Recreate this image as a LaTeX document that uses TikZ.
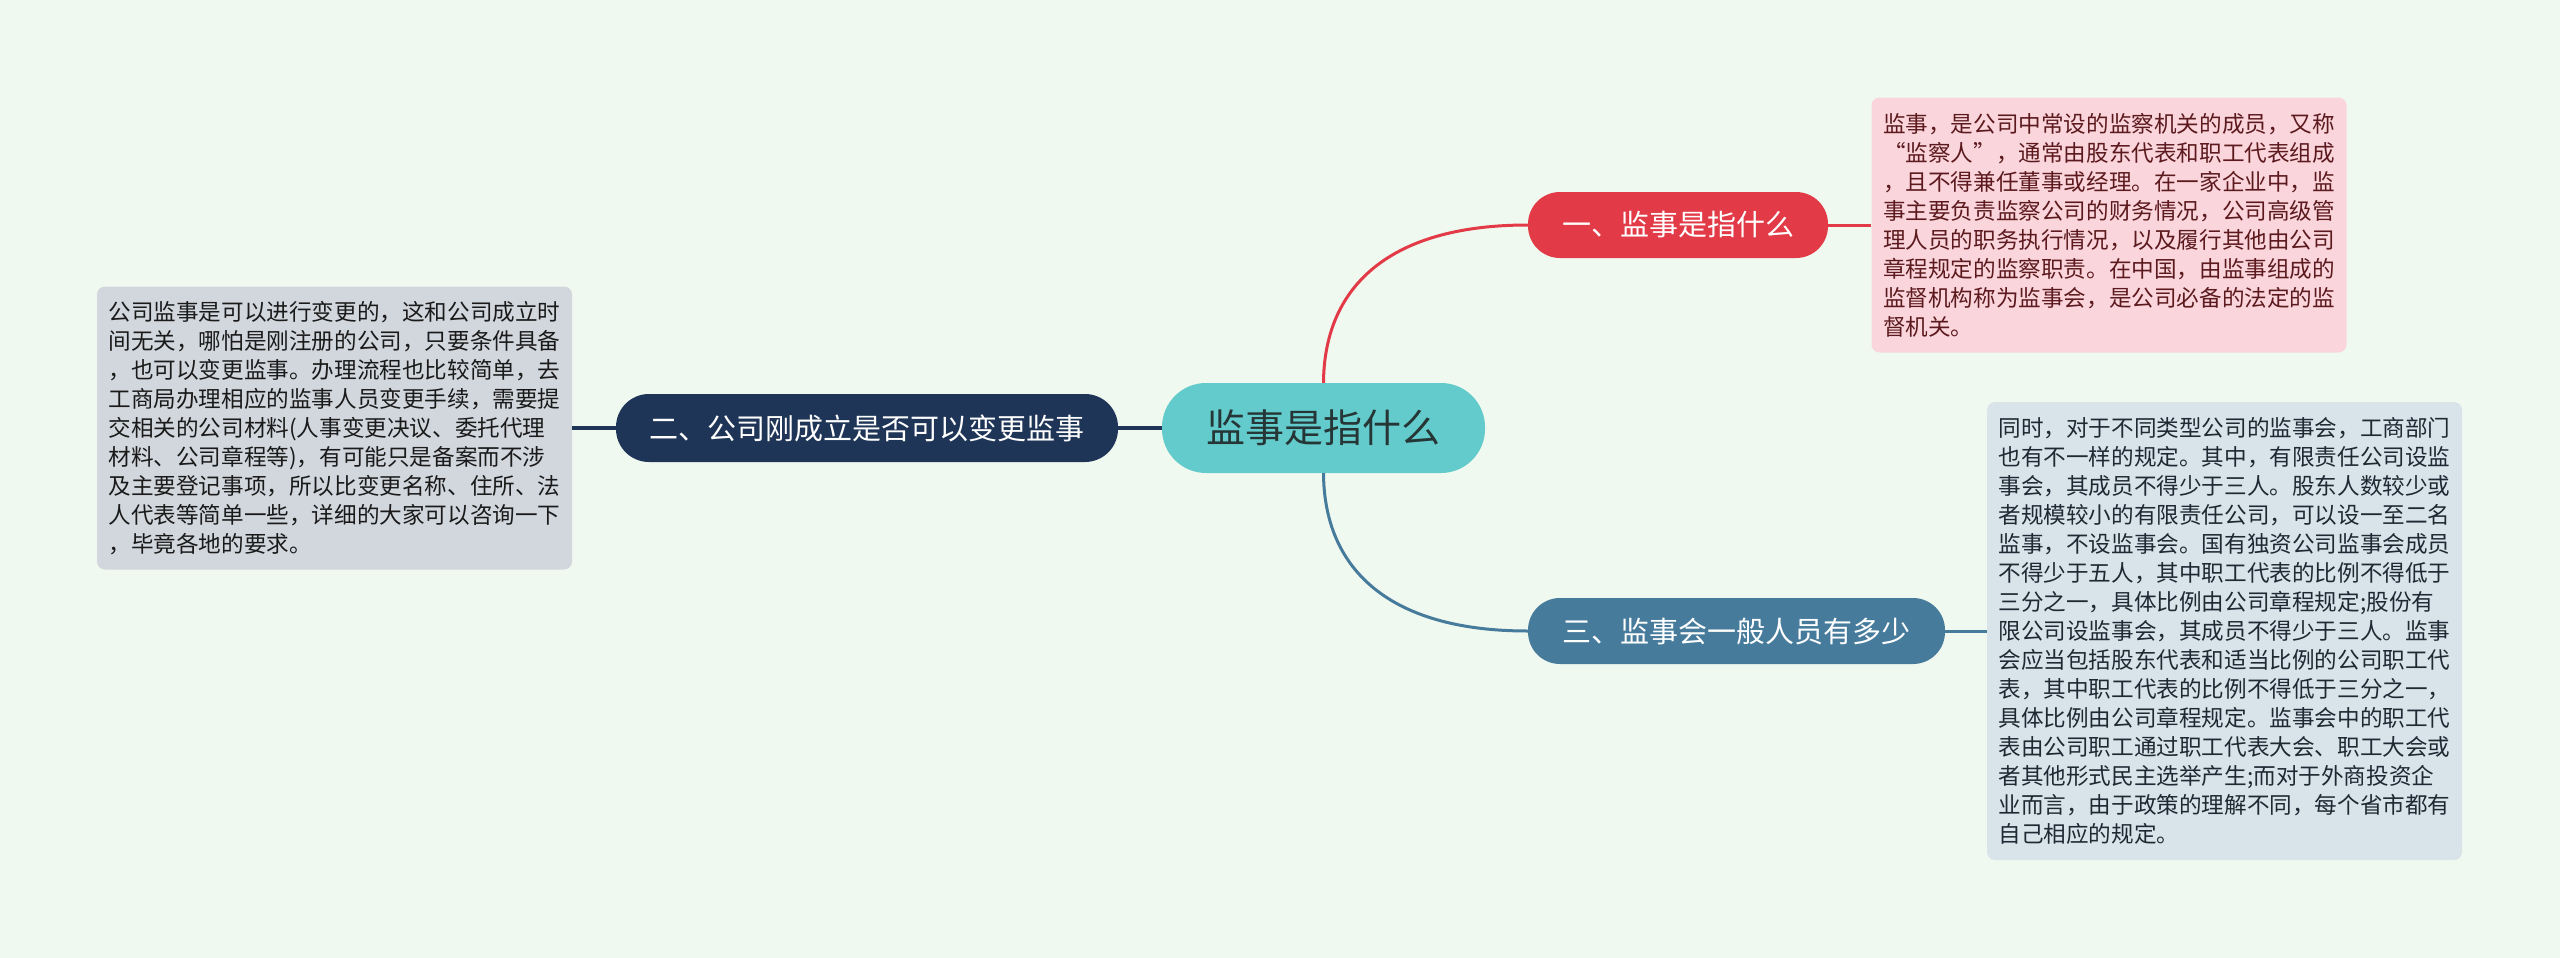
\documentclass[tikz,border=0pt]{standalone}
\usepackage{fontspec}
\setmainfont{Noto Sans CJK SC}
\newfontfamily\fwq[RawFeature=+fwid]{Noto Sans CJK SC}
\definecolor{bg}{HTML}{F0F9EF}
\definecolor{ctr}{HTML}{63CBCC}
\definecolor{ctrtext}{HTML}{263535}
\definecolor{navy}{HTML}{1E3557}
\definecolor{redb}{HTML}{E23A47}
\definecolor{blueb}{HTML}{467B9C}
\definecolor{pinkbox}{HTML}{FAD6DC}
\definecolor{pinktext}{HTML}{5C1A1E}
\definecolor{bluebox}{HTML}{D9E3EA}
\definecolor{blueboxtext}{HTML}{1F2933}
\definecolor{graybox}{HTML}{D2D7DD}
\definecolor{grayboxtext}{HTML}{1A1A1A}
\tikzset{
  pill/.style={inner sep=0pt, rounded corners=32pt, minimum height=66pt, text=white,
    font=\fontsize{29pt}{29pt}\selectfont},
  note/.style={inner xsep=11.5pt, inner ysep=0pt, rounded corners=8pt, text width=452pt,
    align=left, font=\fontsize{22.6pt}{29pt}\selectfont},
  link/.style={line width=3pt},
}
\begin{document}
\begin{tikzpicture}[x=1pt,y=-1pt]
\useasboundingbox[fill=bg] (0,0) rectangle (2560,958);

\node[fill=ctr, inner sep=0pt, rounded corners=44pt, minimum width=323pt, minimum height=90pt,
  text=ctrtext, font=\fontsize{39pt}{39pt}\selectfont] (c) at (1323.5,428) {监事是指什么};

\node[pill, fill=navy, minimum width=502pt, minimum height=68pt, rounded corners=33pt] (b2) at (867,428) {二、公司刚成立是否可以变更监事};
\node[pill, fill=redb, minimum width=300pt] (b1) at (1678,225) {一、监事是指什么};
\node[pill, fill=blueb, minimum width=417pt] (b3) at (1736.5,631) {三、监事会一般人员有多少};

\node[note, fill=pinkbox, text=pinktext, minimum height=255pt] (t1) at (2109,225) {监事，是公司中常设的监察机关的成员，又称\\
{\fwq “}监察人{\fwq ”}，通常由股东代表和职工代表组成\\
，且不得兼任董事或经理。在一家企业中，监\\
事主要负责监察公司的财务情况，公司高级管\\
理人员的职务执行情况，以及履行其他由公司\\
章程规定的监察职责。在中国，由监事组成的\\
监督机构称为监事会，是公司必备的法定的监\\
督机关。};

\node[note, fill=bluebox, text=blueboxtext, minimum height=458pt] (t2) at (2224.5,631) {同时，对于不同类型公司的监事会，工商部门\\
也有不一样的规定。其中，有限责任公司设监\\
事会，其成员不得少于三人。股东人数较少或\\
者规模较小的有限责任公司，可以设一至二名\\
监事，不设监事会。国有独资公司监事会成员\\
不得少于五人，其中职工代表的比例不得低于\\
三分之一，具体比例由公司章程规定;股份有\\
限公司设监事会，其成员不得少于三人。监事\\
会应当包括股东代表和适当比例的公司职工代\\
表，其中职工代表的比例不得低于三分之一，\\
具体比例由公司章程规定。监事会中的职工代\\
表由公司职工通过职工代表大会、职工大会或\\
者其他形式民主选举产生;而对于外商投资企\\
业而言，由于政策的理解不同，每个省市都有\\
自己相应的规定。};

\node[note, fill=graybox, text=grayboxtext, minimum height=283pt] (t3) at (334.5,428) {公司监事是可以进行变更的，这和公司成立时\\
间无关，哪怕是刚注册的公司，只要条件具备\\
，也可以变更监事。办理流程也比较简单，去\\
工商局办理相应的监事人员变更手续，需要提\\
交相关的公司材料(人事变更决议、委托代理\\
材料、公司章程等)，有可能只是备案而不涉\\
及主要登记事项，所以比变更名称、住所、法\\
人代表等简单一些，详细的大家可以咨询一下\\
，毕竟各地的要求。};

\draw[navy, line width=4pt] (b2.east) -- (c.west);
\draw[navy, line width=4pt] (t3.east) -- (b2.west);
\draw[redb, link] (c.north) .. controls (1324,290) and (1385,225) .. (b1.west);
\draw[redb, link] (b1.east) -- (t1.west);
\draw[blueb, link] (c.south) .. controls (1324,566) and (1385,631) .. (b3.west);
\draw[blueb, link] (b3.east) -- (t2.west);
\end{tikzpicture}
\end{document}
